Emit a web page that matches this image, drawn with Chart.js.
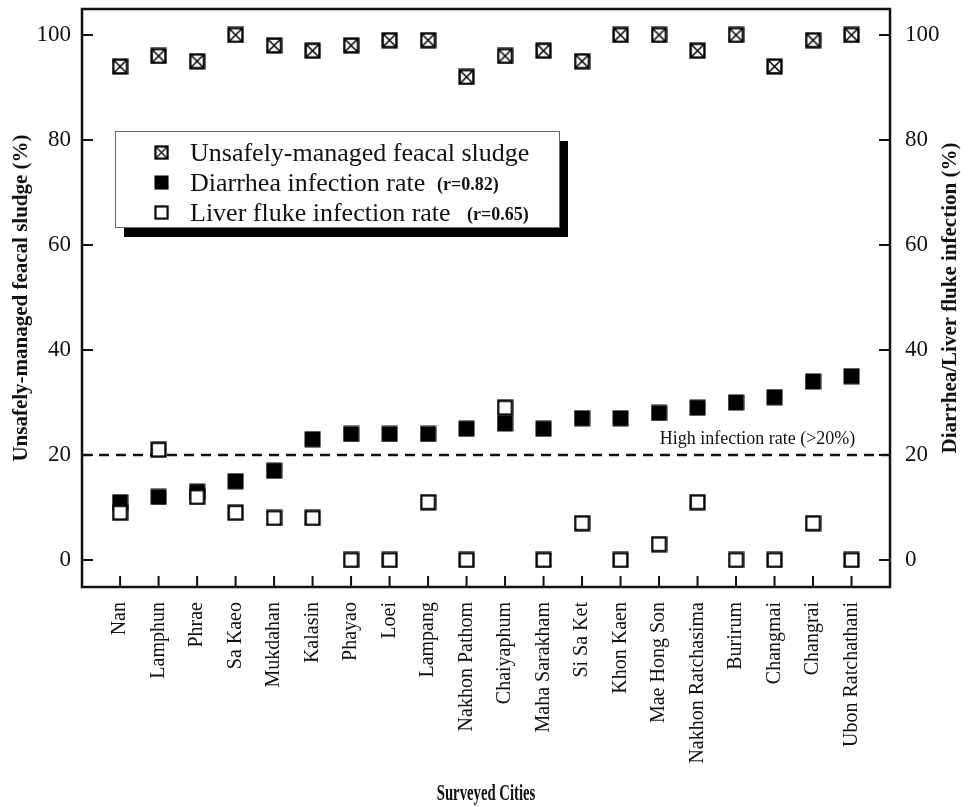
<!DOCTYPE html>
<html>
<head>
<meta charset="utf-8">
<script src="https://cdn.jsdelivr.net/npm/chart.js@4.4.1/dist/chart.umd.min.js"></script>
<style>
  html, body { margin: 0; padding: 0; background: #fff; }
  #wrap { width: 968px; height: 807px; }
</style>
</head>
<body>
<div id="wrap"><canvas id="c" width="968" height="807"></canvas></div>
<script>
var cities = ['Nan', 'Lamphun', 'Phrae', 'Sa Kaeo', 'Mukdahan', 'Kalasin', 'Phayao', 'Loei', 'Lampang',
              'Nakhon Pathom', 'Chaiyaphum', 'Maha Sarakham', 'Si Sa Ket', 'Khon Kaen', 'Mae Hong Son',
              'Nakhon Ratchasima', 'Burirum', 'Changmai', 'Changrai', 'Ubon Ratchathani'];
var sludge   = [94, 96, 95, 100, 98, 97, 98, 99, 99, 92, 96, 97, 95, 100, 100, 97, 100, 94, 99, 100];
var diarrhea = [11, 12, 13, 15, 17, 23, 24, 24, 24, 25, 26, 25, 27, 27, 28, 29, 30, 31, 34, 35];
var liver    = [9, 21, 12, 9, 8, 8, 0, 0, 11, 0, 29, 0, 7, 0, 3, 11, 0, 0, 7, 0];
var yTicks   = [0, 20, 40, 60, 80, 100];
var threshold = 20;

var SERIF = "'Liberation Serif', 'Times New Roman', serif";
Chart.defaults.font.family = SERIF;
Chart.defaults.color = '#111';

// ─── Marker images ───────────────────────────────────

function makeMarker(kind) {
    var s = 17, c = document.createElement('canvas');
    c.width = s; c.height = s;
    var g = c.getContext('2d');
    if (kind === 'filled') {
        g.fillStyle = '#000';
        g.fillRect(0.5, 0.5, 16, 16);
    } else {
        g.fillStyle = '#fff';
        g.fillRect(1, 1, 15, 15);
        g.strokeStyle = '#000';
        g.lineWidth = 2.4;
        g.strokeRect(1.6, 1.6, 13.8, 13.8);
        if (kind === 'cross') {
            g.lineWidth = 1.5;
            g.beginPath();
            g.moveTo(2.5, 2.5); g.lineTo(14.5, 14.5);
            g.moveTo(14.5, 2.5); g.lineTo(2.5, 14.5);
            g.stroke();
        }
    }
    return c;
}
var mkCross = makeMarker('cross'), mkFilled = makeMarker('filled'), mkOpen = makeMarker('open');

function pts(arr) { return arr.map(function(v, i) { return { x: i, y: v }; }); }

// no label overhang padding: the frame sits where the reference has it
function noPad(s) { s.paddingTop = 0; s.paddingBottom = 0; s.paddingLeft = 0; s.paddingRight = 0; }

// ─── Decorations ─────────────────────────────────────

var thresholdLine = {
    id: 'thresholdLine',
    beforeDatasetsDraw: function(chart) {
        var ctx = chart.ctx, a = chart.chartArea, y = chart.scales.y2.getPixelForValue(threshold);
        ctx.save();
        ctx.strokeStyle = '#111';
        ctx.lineWidth = 2.5;
        ctx.setLineDash([10, 7]);
        ctx.beginPath();
        ctx.moveTo(a.left, y); ctx.lineTo(a.right, y);
        ctx.stroke();
        ctx.setLineDash([]);
        ctx.fillStyle = '#111';
        ctx.font = '18px ' + SERIF;
        ctx.textAlign = 'right';
        ctx.textBaseline = 'alphabetic';
        ctx.fillText('High infection rate (>20%)', chart.scales.x.getPixelForValue(19.1), y - 11);
        ctx.restore();
    }
};

var frame = {
    id: 'frame',
    afterDraw: function(chart) {
        var ctx = chart.ctx, a = chart.chartArea, sx = chart.scales.x, sy = chart.scales.y, sy2 = chart.scales.y2;
        var tl = 11;
        ctx.save();
        ctx.strokeStyle = '#111';
        ctx.lineWidth = 2.5;
        ctx.strokeRect(a.left, a.top, a.right - a.left, a.bottom - a.top);
        ctx.lineWidth = 2;
        ctx.beginPath();
        sx.ticks.forEach(function(t) {
            var x = sx.getPixelForValue(t.value);
            ctx.moveTo(x, a.bottom); ctx.lineTo(x, a.bottom - tl);
        });
        sy.ticks.forEach(function(t) {
            var y = sy.getPixelForValue(t.value);
            ctx.moveTo(a.left, y); ctx.lineTo(a.left + tl, y);
        });
        sy2.ticks.forEach(function(t) {
            var y = sy2.getPixelForValue(t.value);
            ctx.moveTo(a.right, y); ctx.lineTo(a.right - tl, y);
        });
        ctx.stroke();

        // right axis title, reading bottom to top
        ctx.fillStyle = '#111';
        ctx.font = 'bold 21px ' + SERIF;
        ctx.textAlign = 'center';
        ctx.textBaseline = 'middle';
        ctx.save();
        ctx.translate(951, (a.top + a.bottom) / 2);
        ctx.rotate(-Math.PI / 2);
        ctx.fillText('Diarrhea/Liver fluke infection (%)', 0, 0);
        ctx.restore();

        // x axis title (condensed)
        ctx.save();
        ctx.translate((a.left + a.right) / 2, 794);
        ctx.scale(0.64, 1);
        ctx.font = 'bold 23px ' + SERIF;
        ctx.fillText('Surveyed Cities', 0, 0);
        ctx.restore();
        ctx.restore();
    }
};

var boxLegend = {
    id: 'boxLegend',
    afterDraw: function(chart) {
        var ctx = chart.ctx;
        var bx = 115, by = 131, bw = 444, bh = 96;
        ctx.save();
        ctx.fillStyle = '#000';
        ctx.fillRect(bx + 9, by + 10, bw, bh);
        ctx.fillStyle = '#fff';
        ctx.fillRect(bx, by, bw, bh);
        ctx.strokeStyle = '#666';
        ctx.lineWidth = 1;
        ctx.strokeRect(bx + 0.5, by + 0.5, bw, bh);

        var rows = [
            { img: mkCross,  text: 'Unsafely-managed feacal sludge', r: '' },
            { img: mkFilled, text: 'Diarrhea infection rate', r: '(r=0.82)' },
            { img: mkOpen,   text: 'Liver fluke infection rate', r: '(r=0.65)' }
        ];
        var rX = [0, 437, 467];
        rows.forEach(function(row, i) {
            var cy = by + 22 + i * 30;
            ctx.drawImage(row.img, 154, cy - 8, 15, 15);
            ctx.fillStyle = '#111';
            ctx.textAlign = 'left';
            ctx.textBaseline = 'middle';
            ctx.font = '26px ' + SERIF;
            ctx.fillText(row.text, 190, cy + 1);
            if (row.r) {
                ctx.font = 'bold 18px ' + SERIF;
                ctx.fillText(row.r, rX[i], cy + 2);
            }
        });
        ctx.restore();
    }
};

// ─── Chart ───────────────────────────────────────────

var yRange = { min: -5.15, max: 104.95 };

new Chart(document.getElementById('c').getContext('2d'), {
    type: 'scatter',
    data: {
        datasets: [
            { label: 'Unsafely-managed feacal sludge', data: pts(sludge), yAxisID: 'y',
              pointStyle: mkCross, order: 2 },
            { label: 'Diarrhea infection rate', data: pts(diarrhea), yAxisID: 'y2',
              pointStyle: mkFilled, order: 1 },
            { label: 'Liver fluke infection rate', data: pts(liver), yAxisID: 'y2',
              pointStyle: mkOpen, order: 0 }
        ]
    },
    options: {
        responsive: false,
        animation: false,
        events: [],
        layout: { padding: { top: 9, left: 0, right: 0, bottom: 0 } },
        plugins: { legend: { display: false }, tooltip: { enabled: false } },
        scales: {
            x: {
                type: 'linear', position: 'bottom', min: -0.99, max: 20,
                grid: { display: false, drawTicks: false },
                border: { display: false },
                afterBuildTicks: function(s) { s.ticks = cities.map(function(c, i) { return { value: i }; }); },
                afterFit: function(s) { s.height = 220; noPad(s); },
                ticks: {
                    autoSkip: false, minRotation: 90, maxRotation: 90, padding: 15,
                    font: { size: 20 }, color: '#111',
                    callback: function(v) { return cities[v]; }
                }
            },
            y: {
                position: 'left', min: yRange.min, max: yRange.max,
                grid: { display: false, drawTicks: false },
                border: { display: false },
                afterBuildTicks: function(s) { s.ticks = yTicks.map(function(v) { return { value: v }; }); },
                afterFit: function(s) { s.width = 82; noPad(s); },
                ticks: { padding: 11, font: { size: 23 }, color: '#111' },
                title: {
                    display: true, text: 'Unsafely-managed feacal sludge (%)',
                    font: { size: 21, weight: 'bold' }, color: '#111', padding: { top: 9, bottom: 0 }
                }
            },
            y2: {
                position: 'right', min: yRange.min, max: yRange.max,
                grid: { display: false, drawTicks: false },
                border: { display: false },
                afterBuildTicks: function(s) { s.ticks = yTicks.map(function(v) { return { value: v }; }); },
                afterFit: function(s) { s.width = 78; noPad(s); },
                ticks: { padding: 15, font: { size: 23 }, color: '#111' }
            }
        }
    },
    plugins: [thresholdLine, frame, boxLegend]
});
</script>
</body>
</html>
